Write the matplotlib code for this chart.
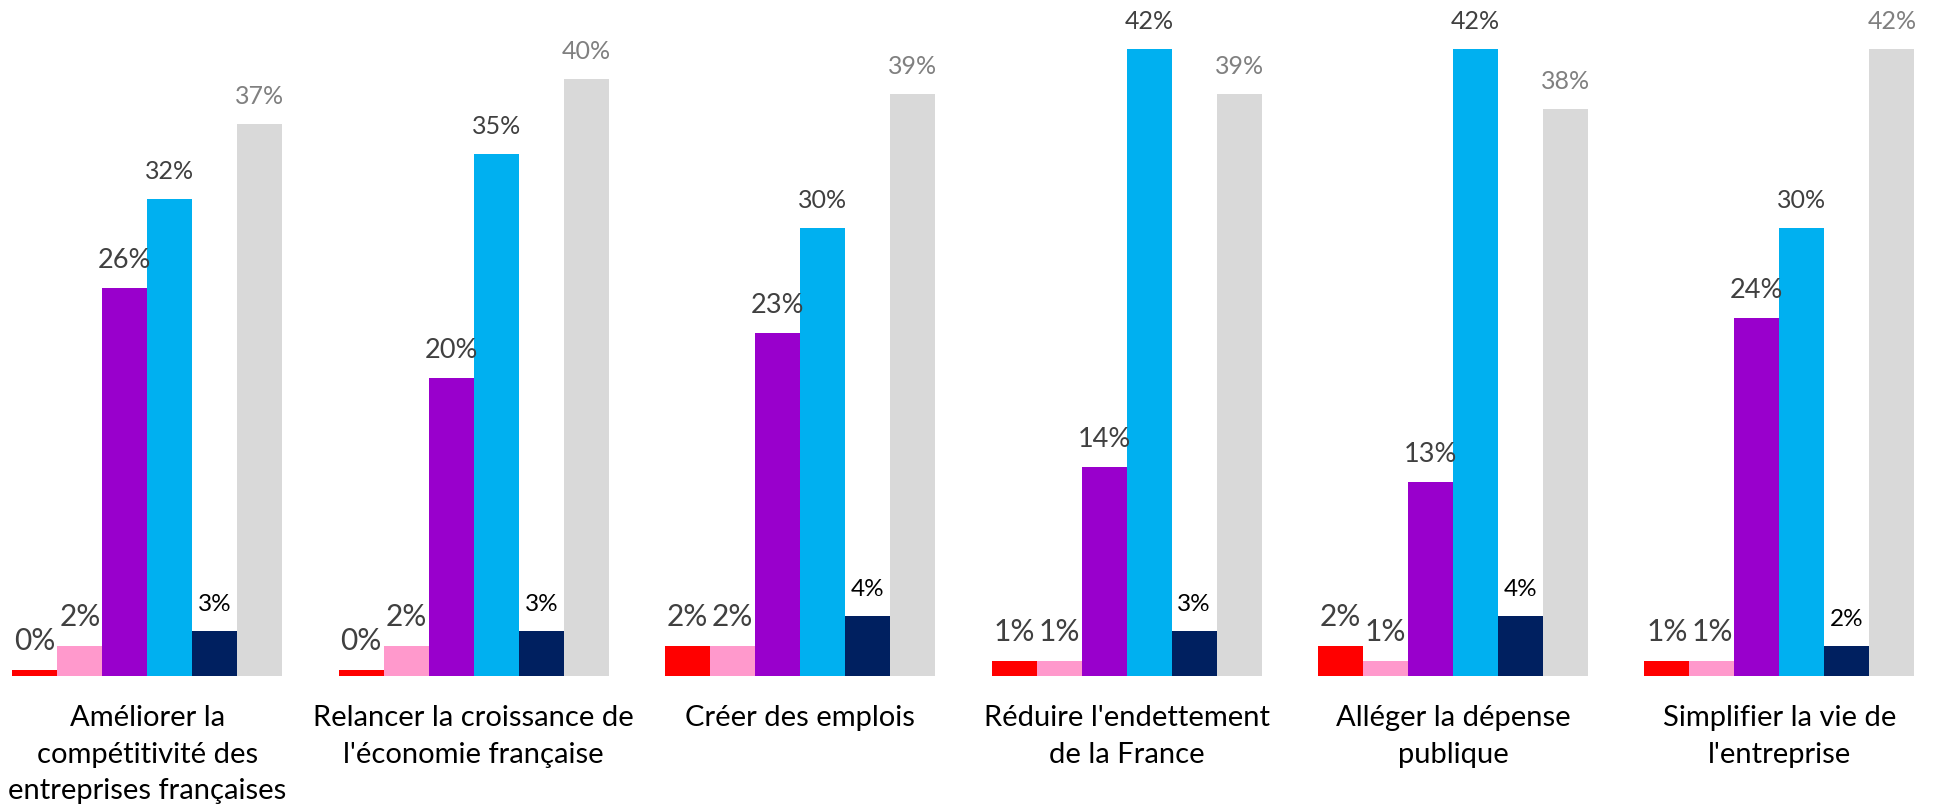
import matplotlib
matplotlib.use("Agg")
import matplotlib.pyplot as plt
import numpy as np

plt.rcParams['font.family'] = ['Lato', 'DejaVu Sans']

categories = ["Améliorer la\ncompétitivité des\nentreprises françaises",
              "Relancer la croissance de\nl'économie française",
              "Créer des emplois",
              "Réduire l'endettement\nde la France",
              "Alléger la dépense\npublique",
              "Simplifier la vie de\nl'entreprise"]
s_red    = [0.4, 0.4, 2, 1, 2, 1]
s_pink   = [2, 2, 2, 1, 1, 1]
s_purple = [26, 20, 23, 14, 13, 24]
s_cyan   = [32, 35, 30, 42, 42, 30]
s_navy   = [3, 3, 4, 3, 4, 2]
s_grey   = [37, 40, 39, 39, 38, 42]

series = [s_red, s_pink, s_purple, s_cyan, s_navy, s_grey]
colors = ["#FF0000", "#FF99CC", "#9900CC", "#00B0F0", "#002060", "#D9D9D9"]
label_colors = ["#404040", "#404040", "#404040", "#404040", "#000000", "#808080"]
label_sizes = [21.5, 21.5, 19.5, 18, 17.5, 18]

W, H = 1939, 810
fig = plt.figure(figsize=(W/100, H/100), dpi=100)
ax = fig.add_axes([0, 134/H, 1, 1 - 134/H])
ppu = 14.92
ax.set_ylim(0, (H - 134) / ppu)
spacing = 326.4
a = -147.4 / spacing
ax.set_xlim(a, a + W / spacing)

x = np.arange(len(categories))
bw = 45 / spacing
for k, (vals, c) in enumerate(zip(series, colors)):
    xs = x + (k - 2.5) * bw
    ax.bar(xs, vals, width=bw, color=c, linewidth=0)
    for xi, v in zip(xs, vals):
        ax.annotate(f"{v:.0f}%", (xi, v), xytext=(0, 14.4), textcoords="offset points",
                    ha="center", va="baseline", color=label_colors[k],
                    fontsize=label_sizes[k])

for xi, cat in zip(x, categories):
    ax.annotate(cat, (xi, 0), xytext=(0, -21), textcoords="offset points",
                ha="center", va="top", fontsize=21, color="#000000",
                linespacing=1.5, annotation_clip=False)

ax.axis("off")
fig.savefig("out.png", dpi=100)
